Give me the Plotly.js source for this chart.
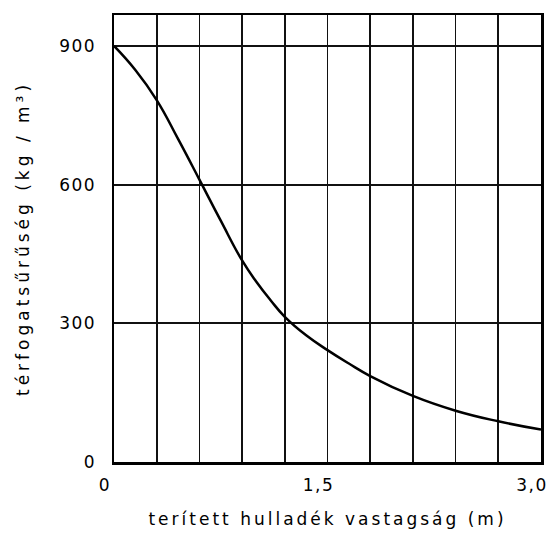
<!DOCTYPE html>
<html><head><meta charset="utf-8">
<script src="https://cdn.plot.ly/plotly-3.0.1.min.js"></script>
<style>
body{margin:0;background:#fff}
.xtitle{letter-spacing:3px}
.ytitle{letter-spacing:4px}
.xtick text,.ytick text{letter-spacing:1.5px}
</style>
</head><body>
<div id="chart" style="width:549px;height:534px"></div>
<script>
const thickness = [0, 0.15, 0.3, 0.45, 0.6, 0.75, 0.9, 1.0, 1.1, 1.2, 1.35, 1.5, 1.65, 1.8, 2.1, 2.4, 2.7, 3.0];
const density   = [900, 848, 783, 699, 611, 522, 436, 390, 350, 314, 274, 242, 213, 186, 143, 111, 88, 70];
const xTickVals = [0, 0.3, 0.6, 0.9, 1.2, 1.5, 1.8, 2.1, 2.4, 2.7, 3.0];
const xTickText = ['0', '', '', '', '', '1,5', '', '', '', '', '3,0'];
const yTickVals = [0, 300, 600, 900];
const yTickText = ['0', '300', '600', '900'];
const xTitle = 'terített hulladék vastagság (m)';
const yTitle = 'térfogatsűrűség (kg / m³)';

const fontFam = '"DejaVu Sans", sans-serif';
Plotly.newPlot('chart', [{
  x: thickness, y: density, type: 'scatter', mode: 'lines',
  line: {color: '#000', width: 2.5, shape: 'spline', smoothing: 1.3},
  hoverinfo: 'skip', showlegend: false
}], {
  width: 549, height: 534,
  margin: {l: 114, r: 8, t: 15, b: 72},
  paper_bgcolor: '#fff', plot_bgcolor: '#fff',
  font: {family: fontFam, color: '#000', size: 16},
  xaxis: {
    range: [0, 3.0], tickvals: xTickVals, ticktext: xTickText,
    showgrid: true, gridcolor: '#111', gridwidth: 1.7,
    showline: true, linecolor: '#000', linewidth: 2.5, mirror: true,
    zeroline: false, ticks: '', ticklabelstandoff: 6, ticklabelshift: -9,
    tickfont: {size: 17},
    title: {text: xTitle, font: {size: 17}, standoff: 19}
  },
  yaxis: {
    range: [0, 967], tickvals: yTickVals, ticktext: yTickText,
    showgrid: true, gridcolor: '#111', gridwidth: 1.7,
    showline: true, linecolor: '#000', linewidth: 2.5, mirror: true,
    zeroline: false, ticks: '', ticklabelstandoff: 12,
    tickfont: {size: 17},
    title: {text: yTitle, font: {size: 17}, standoff: 25}
  }
}, {staticPlot: true});
</script>
</body></html>
